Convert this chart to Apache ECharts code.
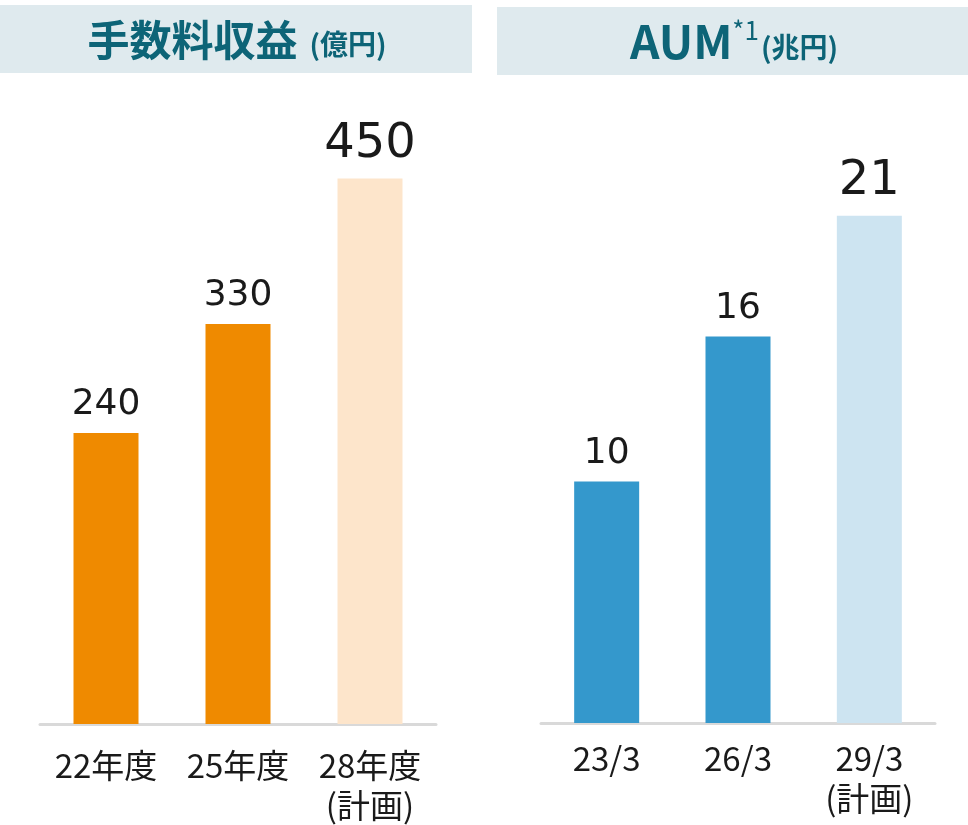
<!DOCTYPE html>
<html lang="ja">
<head>
    <meta charset="UTF-8">
    <title>手数料収益 / AUM</title>
    <script src="https://cdn.jsdelivr.net/npm/echarts@6/dist/echarts.min.js"></script>
    <style>
        html, body { margin: 0; padding: 0; background: #fff; }
        #main { width: 968px; height: 825px; }
    </style>
</head>
<body>
<div id="main"></div>
<script>
    // 手数料収益（億円）
    var feeCats = ['22年度', '25年度', '28年度\n(計画)'];
    var feeVals = [240, 330, 450];
    // AUM（兆円）
    var aumCats = ['23/3', '26/3', '29/3\n(計画)'];
    var aumVals = [10, 16, 21];
    // 計画 (最後の棒) は薄い色
    var planFlag = [false, false, true];

    var cjk = '"Noto Sans CJK JP", "Noto Sans", sans-serif';
    var numFont = '"DejaVu Sans", "Noto Sans", sans-serif';
    var teal = '#0d6477';

    function barData(vals, dark, light) {
        return vals.map(function (v, i) {
            return {
                value: v,
                itemStyle: { color: planFlag[i] ? light : dark },
                label: { fontSize: planFlag[i] ? 48 : 36 }
            };
        });
    }

    var chart = echarts.init(document.getElementById('main'));
    chart.setOption({
        animation: false,
        graphic: [
            { type: 'rect', shape: { x: 0, y: 5, width: 472, height: 68 }, style: { fill: '#dfeaee' } },
            { type: 'rect', shape: { x: 497, y: 7, width: 471, height: 68 }, style: { fill: '#dfeaee' } },
            {
                type: 'text', x: 237, y: 40,
                style: {
                    text: '{m|手数料収益}{u|(億円)}',
                    align: 'center', verticalAlign: 'middle',
                    rich: {
                        m: { fontSize: 42, fontWeight: 'bold', fill: teal, fontFamily: cjk },
                        u: { fontSize: 28, fontWeight: 'bold', fill: teal, fontFamily: cjk, padding: [8, 0, 0, 12] }
                    }
                }
            },
            {
                type: 'text', x: 734, y: 42,
                style: {
                    text: '{m|AUM}{s|*1}{u|(兆円)}',
                    align: 'center', verticalAlign: 'middle',
                    rich: {
                        m: { fontSize: 46, fontWeight: 'bold', fill: teal, fontFamily: cjk },
                        s: { fontSize: 26, fill: teal, fontFamily: cjk, padding: [0, 2, 24, 0] },
                        u: { fontSize: 28, fontWeight: 'bold', fill: teal, fontFamily: cjk, padding: [10, 0, 0, 0] }
                    }
                }
            }
        ],
        grid: [
            { left: 40, width: 396, top: 118, height: 606 },
            { left: 541, width: 394, top: 119, height: 604 }
        ],
        xAxis: [
            {
                type: 'category', gridIndex: 0, data: feeCats,
                axisLine: { lineStyle: { color: '#d9d9d9', width: 3 } },
                axisTick: { show: false },
                axisLabel: { interval: 0, hideOverlap: false, margin: 21, color: '#1a1a1a', fontSize: 33, fontFamily: cjk, lineHeight: 40 }
            },
            {
                type: 'category', gridIndex: 1, data: aumCats,
                axisLine: { lineStyle: { color: '#d9d9d9', width: 3 } },
                axisTick: { show: false },
                axisLabel: { interval: 0, hideOverlap: false, margin: 15, color: '#1a1a1a', fontSize: 33, fontFamily: cjk, lineHeight: 40 }
            }
        ],
        yAxis: [
            { type: 'value', gridIndex: 0, min: 0, max: 500, show: false, splitLine: { show: false } },
            { type: 'value', gridIndex: 1, min: 0, max: 25, show: false, splitLine: { show: false } }
        ],
        series: [
            {
                type: 'bar', xAxisIndex: 0, yAxisIndex: 0, barWidth: 65,
                data: barData(feeVals, '#ef8a00', '#fde5cb'),
                label: { show: true, position: 'top', distance: 10, color: '#1a1a1a', fontFamily: numFont }
            },
            {
                type: 'bar', xAxisIndex: 1, yAxisIndex: 1, barWidth: 65,
                data: barData(aumVals, '#3498cc', '#cde4f1'),
                label: { show: true, position: 'top', distance: 10, color: '#1a1a1a', fontFamily: numFont }
            }
        ]
    });
</script>
</body>
</html>
